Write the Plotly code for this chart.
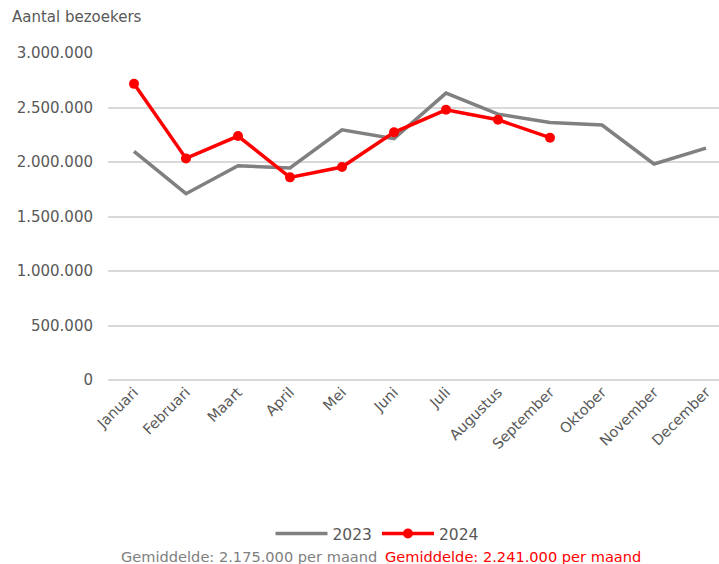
import plotly.graph_objects as go

maanden = ["Januari", "Februari", "Maart", "April", "Mei", "Juni", "Juli",
           "Augustus", "September", "Oktober", "November", "December"]
bezoekers_2023 = [2097000, 1709000, 1966000, 1945000, 2296000, 2214000,
                  2632000, 2439000, 2363000, 2339000, 1982000, 2128000]
bezoekers_2024 = [2717000, 2033000, 2238000, 1859000, 1954000, 2272000,
                  2479000, 2387000, 2223000]
y_ticks = [0, 500000, 1000000, 1500000, 2000000, 2500000, 3000000]
y_labels = ["0", "500.000", "1.000.000", "1.500.000", "2.000.000", "2.500.000", "3.000.000"]

GRIJS = "#808080"
ROOD = "#ff0000"
TEKST = "#595959"
FONT = "DejaVu Sans"

W, H = 719, 564
L, R, T, B = 108, 0, 53, 184
pw, ph = W - L - R, H - T - B


def px_x(x):
    return (x - L) / pw


def px_y(y):
    return (H - B - y) / ph


fig = go.Figure()
fig.add_trace(go.Scatter(
    x=maanden, y=bezoekers_2023, name="2023", mode="lines",
    line=dict(color=GRIJS, width=3.5),
))
fig.add_trace(go.Scatter(
    x=maanden[:len(bezoekers_2024)], y=bezoekers_2024, name="2024",
    mode="lines+markers",
    line=dict(color=ROOD, width=3.5),
    marker=dict(color=ROOD, size=10),
))

fig.update_layout(
    width=W, height=H,
    margin=dict(l=L, r=R, t=T, b=B),
    plot_bgcolor="white", paper_bgcolor="white",
    font=dict(family=FONT, color=TEKST, size=14),
    showlegend=True,
    legend=dict(
        orientation="h", x=px_x(377), y=px_y(534),
        xanchor="center", yanchor="middle",
        font=dict(size=15.5, color=TEKST), itemwidth=52,
        traceorder="normal", bgcolor="rgba(0,0,0,0)",
    ),
    xaxis=dict(
        range=[-0.5, 11.25], showgrid=False, zeroline=False, showline=False,
        tickangle=-45, ticks="", tickfont=dict(size=14.5, color=TEKST),
        fixedrange=True,
    ),
    yaxis=dict(
        range=[0, 3000000], tickvals=y_ticks, ticktext=y_labels,
        showgrid=True, gridcolor="#d9d9d9", gridwidth=1.5,
        zeroline=True, zerolinecolor="#d9d9d9", zerolinewidth=1.5,
        showline=False, ticks="", ticklabelstandoff=14,
        tickfont=dict(size=15, color=TEKST),
    ),
    annotations=[
        dict(text="Aantal bezoekers", xref="paper", yref="paper",
             x=px_x(10), y=px_y(17), xanchor="left", yanchor="middle",
             showarrow=False, font=dict(size=15, color=TEKST)),
        dict(text="Gemiddelde: 2.175.000 per maand", xref="paper", yref="paper",
             x=px_x(379), y=px_y(556), xanchor="right", yanchor="middle",
             showarrow=False, font=dict(size=14.6, color=GRIJS)),
        dict(text="Gemiddelde: 2.241.000 per maand", xref="paper", yref="paper",
             x=px_x(383), y=px_y(556), xanchor="left", yanchor="middle",
             showarrow=False, font=dict(size=14.6, color=ROOD)),
    ],
)

fig.write_html("out.html")
